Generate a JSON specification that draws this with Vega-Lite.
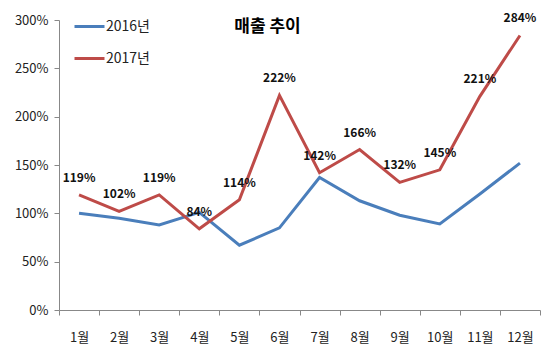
{
  "$schema": "https://vega.github.io/schema/vega-lite/v6.json",
  "width": 481,
  "height": 290,
  "autosize": {"type": "none"},
  "padding": {"left": 59, "top": 20, "right": 10, "bottom": 50},
  "background": "white",
  "title": {"text": "매출 추이", "anchor": "middle", "dx": -32, "dy": 30, "fontSize": 17, "fontWeight": "bold", "font": "Noto Sans CJK KR", "color": "#000000"},
  "config": {
    "view": {"stroke": null},
    "font": "Noto Sans CJK KR"
  },
  "data": {
    "values": [
      {"month": "1월", "series": "2016년", "value": 1.00},
      {"month": "2월", "series": "2016년", "value": 0.95},
      {"month": "3월", "series": "2016년", "value": 0.88},
      {"month": "4월", "series": "2016년", "value": 1.01},
      {"month": "5월", "series": "2016년", "value": 0.67},
      {"month": "6월", "series": "2016년", "value": 0.85},
      {"month": "7월", "series": "2016년", "value": 1.37},
      {"month": "8월", "series": "2016년", "value": 1.13},
      {"month": "9월", "series": "2016년", "value": 0.98},
      {"month": "10월", "series": "2016년", "value": 0.89},
      {"month": "11월", "series": "2016년", "value": 1.20},
      {"month": "12월", "series": "2016년", "value": 1.52},
      {"month": "1월", "series": "2017년", "value": 1.19},
      {"month": "2월", "series": "2017년", "value": 1.02},
      {"month": "3월", "series": "2017년", "value": 1.19},
      {"month": "4월", "series": "2017년", "value": 0.84},
      {"month": "5월", "series": "2017년", "value": 1.14},
      {"month": "6월", "series": "2017년", "value": 2.22},
      {"month": "7월", "series": "2017년", "value": 1.42},
      {"month": "8월", "series": "2017년", "value": 1.66},
      {"month": "9월", "series": "2017년", "value": 1.32},
      {"month": "10월", "series": "2017년", "value": 1.45},
      {"month": "11월", "series": "2017년", "value": 2.21},
      {"month": "12월", "series": "2017년", "value": 2.84}
    ]
  },
  "encoding": {
    "x": {
      "field": "month", "type": "nominal", "sort": null,
      "scale": {"type": "band", "paddingInner": 0, "paddingOuter": 0},
      "axis": {"title": null, "labelAngle": 0, "tickBand": "extent", "domainColor": "#888888", "tickColor": "#888888", "tickSize": 5, "labelPadding": 16, "labelFontSize": 13, "labelColor": "#222222", "labelFont": "Noto Sans CJK KR", "grid": false}
    },
    "y": {
      "field": "value", "type": "quantitative",
      "scale": {"domain": [0, 3]},
      "axis": {"title": null, "values": [0, 0.5, 1, 1.5, 2, 2.5, 3], "format": ".0%", "grid": false, "domainColor": "#888888", "tickColor": "#888888", "tickSize": 5, "labelPadding": 6, "labelFontSize": 13, "labelColor": "#222222", "labelFont": "Noto Sans CJK KR"}
    }
  },
  "layer": [
    {
      "mark": {"type": "line", "strokeWidth": 3},
      "encoding": {
        "color": {
          "field": "series", "type": "nominal",
          "scale": {"domain": ["2016년", "2017년"], "range": ["#4a7ebb", "#be4b48"]},
          "legend": {"title": null, "orient": "none", "legendX": 14, "legendY": -10, "symbolType": "stroke", "symbolSize": 900, "symbolStrokeWidth": 3, "labelFontSize": 14, "labelColor": "#222222", "labelFont": "Noto Sans CJK KR", "rowPadding": 8, "labelOffset": 0}
        }
      }
    },
    {
      "transform": [{"filter": "datum.series == '2017년'"}],
      "mark": {"type": "text", "dy": -17, "fontSize": 12, "fontWeight": "bold", "font": "Noto Sans CJK KR", "color": "#111111"},
      "encoding": {
        "text": {"field": "value", "type": "quantitative", "format": ".0%"}
      }
    }
  ]
}
